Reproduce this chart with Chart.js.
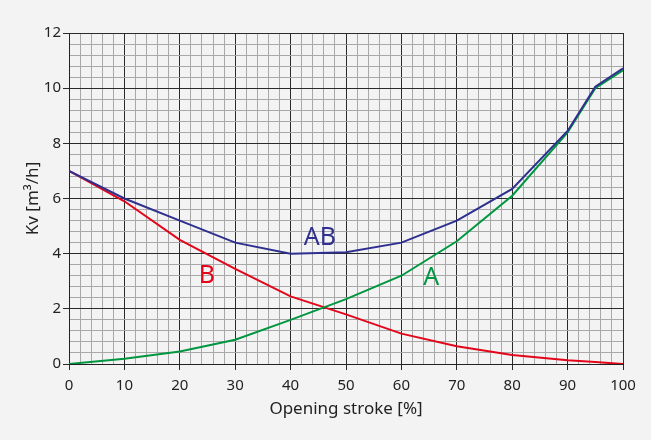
<!DOCTYPE html>
<html>
<head>
<meta charset="utf-8">
<script src="https://cdn.jsdelivr.net/npm/chart.js@4.4.1/dist/chart.umd.min.js"></script>
<style>
  html, body { margin: 0; padding: 0; background: #f3f3f3; }
  #wrap { width: 651px; height: 440px; }
</style>
</head>
<body>
<div id="wrap"><canvas id="c" width="651" height="440"></canvas></div>
<script>
const strokes = [0, 10, 20, 30, 40, 50, 60, 70, 80, 90, 95, 100];
const kvAB = [7.0, 6.0, 5.2, 4.4, 4.0, 4.05, 4.4, 5.2, 6.35, 8.45, 10.05, 10.72];
const kvA  = [0.0, 0.19, 0.45, 0.88, 1.6, 2.35, 3.2, 4.45, 6.1, 8.4, 10.0, 10.65];
const kvB  = [7.0, 5.9, 4.5, 3.45, 2.45, 1.8, 1.1, 0.64, 0.33, 0.14, 0.07, 0.0];
const seriesNames = ['AB', 'A', 'B'];
const seriesColors = ['#2e2f8f', '#009640', '#e3061b'];
const labelAt = { AB: [45.3, 4.58], A: [65.4, 3.13], B: [24.9, 3.2] };

function pts(ys) { return strokes.map((x, i) => ({ x: x, y: ys[i] })); }

const isMult = (v, m) => Math.abs(v / m - Math.round(v / m)) < 1e-6;

const curveLabels = {
  id: 'curveLabels',
  afterDatasetsDraw(chart) {
    const ctx = chart.ctx, xs = chart.scales.x, ys = chart.scales.y;
    ctx.save();
    ctx.font = '25px "Noto Sans"';
    ctx.textAlign = 'center';
    ctx.textBaseline = 'middle';
    seriesNames.forEach((n, i) => {
      ctx.fillStyle = seriesColors[i];
      ctx.fillText(n, xs.getPixelForValue(labelAt[n][0]), ys.getPixelForValue(labelAt[n][1]));
    });
    ctx.restore();
  }
};

const bg = {
  id: 'bg',
  beforeDraw(chart) {
    const ctx = chart.ctx;
    ctx.save();
    ctx.fillStyle = '#f3f3f3';
    ctx.fillRect(0, 0, chart.width, chart.height);
    ctx.restore();
  }
};

new Chart(document.getElementById('c'), {
  type: 'line',
  data: {
    datasets: [
      { label: 'AB', data: pts(kvAB), borderColor: seriesColors[0] },
      { label: 'A', data: pts(kvA), borderColor: seriesColors[1] },
      { label: 'B', data: pts(kvB), borderColor: seriesColors[2] }
    ]
  },
  options: {
    responsive: false,
    animation: false,
    devicePixelRatio: 1,
    layout: { padding: { left: 0, right: 28, top: 33, bottom: 0 } },
    elements: {
      line: { borderWidth: 2, tension: 0, fill: false },
      point: { radius: 0, hoverRadius: 0 }
    },
    plugins: { legend: { display: false }, tooltip: { enabled: false } },
    scales: {
      x: {
        type: 'linear', min: 0, max: 100,
        afterFit(s) { s.height = 76; },
        border: { color: '#222', width: 1 },
        ticks: {
          stepSize: 2, autoSkip: false, maxRotation: 0, padding: 7,
          color: '#222', font: { family: '"Noto Sans"', size: 15 },
          callback: v => isMult(v, 10) ? String(Math.round(v)) : ''
        },
        grid: {
          drawTicks: true, tickLength: 6,
          color: c => isMult(c.tick.value, 10) ? '#2a2a2a' : '#a8a8a8',
          tickColor: c => isMult(c.tick.value, 10) ? '#2a2a2a' : 'rgba(0,0,0,0)',
          lineWidth: 1
        },
        title: {
          display: true, text: 'Opening stroke [%]', color: '#222',
          font: { family: '"Noto Sans"', size: 17 },
          padding: { top: 4, bottom: 21 }
        }
      },
      y: {
        type: 'linear', min: 0, max: 12,
        afterFit(s) { s.width = 69; },
        border: { color: '#222', width: 1 },
        ticks: {
          stepSize: 0.4, autoSkip: false, padding: 2,
          color: '#222', font: { family: '"Noto Sans"', size: 15 },
          callback: v => isMult(v, 2) ? String(Math.round(v)) : ''
        },
        grid: {
          drawTicks: true, tickLength: 6,
          color: c => isMult(c.tick.value, 2) ? '#2a2a2a' : '#a8a8a8',
          tickColor: c => isMult(c.tick.value, 2) ? '#2a2a2a' : 'rgba(0,0,0,0)',
          lineWidth: 1
        },
        title: {
          display: true, text: 'Kv [m³/h]', color: '#222',
          font: { family: '"Noto Sans"', size: 17 },
          padding: { top: 23, bottom: 4 }
        }
      }
    }
  },
  plugins: [bg, curveLabels]
});
</script>
</body>
</html>
